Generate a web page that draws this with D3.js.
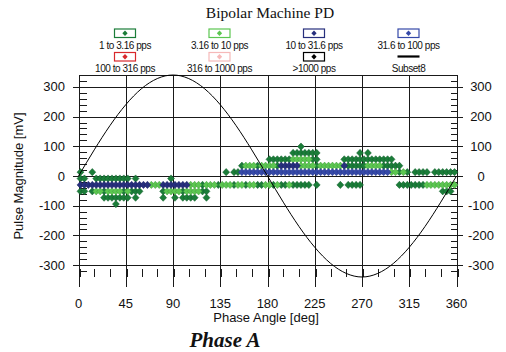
<!DOCTYPE html>
<html><head><meta charset="utf-8">
<script src="https://cdn.jsdelivr.net/npm/d3@7"></script>
<style>html,body{margin:0;padding:0;background:#fff;} svg{display:block;}</style>
</head><body>
<svg id="chart" width="506" height="352"></svg>
<script>
// ---- data ----
const title = "Bipolar Machine PD";
const caption = "Phase A";
const xLabel = "Phase Angle [deg]";
const yLabel = "Pulse Magnitude [mV]";
const xTicks = [0, 45, 90, 135, 180, 225, 270, 315, 360];
const yTicks = [-300, -200, -100, 0, 100, 200, 300];

const seriesNames = ["1 to 3.16 pps", "3.16 to 10 pps", "10 to 31.6 pps", "31.6 to 100 pps",
                     "100 to 316 pps", "316 to 1000 pps", ">1000 pps", "Subset8"];
const seriesColors = ["#1b7d39", "#5cc651", "#272f7d", "#3549a8", "#d8282c", "#f6b9b9", "#000000", "#000000"];
const seriesEdges = ["#0f5a28", "#3f9a3a", "#1a2060", "#25358a", "#a01818", "#d09090", "#000000", "#000000"];
const seriesCodes = ["d", "l", "n", "b", "r", "p", "k"];

// phase bins of 3.75 deg; one character per bin, letter = rate class (see seriesCodes)
const binWidth = 3.75;
const magnitudes = [99, 77.5, 56, 34.5, 13, -8.5, -30, -51.5, -73, -94.5];
const rowBins = [
  "........ ........ ........ ........ ........ ........ ........ d....... ........ ........ ........ ........",
  "........ ........ ........ ........ ........ ........ ......dd ddddd... .......d .d...... ........ ........",
  "........ ........ ........ ........ ........ ........ ddddddll llldd... ...ddddd dddddddd ........ ........",
  "........ ........ ........ ........ ........ .dllldll lldnnnnn lllldlll lllndddd dllllddd dd...... ........",
  "d..d.... ........ ........ ........ .....d.d dbbbbbbb bbbbbbbb bbbbbbbb bbbbbbbb bbbbbbbl ldld.ddd d.dddddd",
  "dd..dddd ddddd.d. .......d ........ ........ ........ ........ ........ ........ ........ ........ ........",
  "nnnnnnnn nnnnnnnn nnlllnnn nnnnllld llldllld lldllddl ldlddldd ddd.d... ..d.dddd ........ .ddddddd llllllll",
  "dd.dlldl llldlddd .....dll lldlllld d....... ........ ........ ........ ........ ........ ........ ....ddd.",
  "......dd ddddd.d. .....d.. d.dddd.. d....... ........ ........ ........ ........ ........ ........ ........",
  "........ .d...... ........ ........ ........ ........ ........ ........ ........ ........ ........ ........"
];

// reference sine (Subset8), mV at every 15 deg
const refPhase = [0, 15, 30, 45, 60, 75, 90, 105, 120, 135, 150, 165, 180,
                  195, 210, 225, 240, 255, 270, 285, 300, 315, 330, 345, 360];
const refValues = [0, 88, 170, 240, 294, 328, 340, 328, 294, 240, 170, 88, 0,
                   -88, -170, -240, -294, -328, -340, -328, -294, -240, -170, -88, 0];

// ---- layout ----
const svg = d3.select("#chart");
const x = d3.scaleLinear().domain([0, 360]).range([78.5, 456.5]);
const y = d3.scaleLinear().domain([-340, 340]).range([277, 75]);
const px = v => Math.round(x(v)) + 0.5;
const py = v => Math.round(y(v)) + 0.5;
const lineColor = "#1a1a1a";

const diamond = {
  draw(ctx, size) {
    const r = Math.sqrt(size / 2);
    ctx.moveTo(0, -r * 1.05); ctx.lineTo(r, 0); ctx.lineTo(0, r * 1.05); ctx.lineTo(-r, 0); ctx.closePath();
  }
};

// title
svg.append("text").attr("x", 270).attr("y", 18).attr("text-anchor", "middle")
  .attr("font-family", "Liberation Serif, Times New Roman, serif").attr("font-size", 15.5)
  .attr("fill", "#111").text(title);

// legend
const legCols = [125, 219.5, 314, 408.5];
const legBoxY = [33, 56.5];
const legTextY = [48.5, 72];
const legend = svg.append("g");
seriesNames.forEach((name, i) => {
  const cx = legCols[i % 4], row = Math.floor(i / 4);
  const g = legend.append("g");
  if (i < 7) {
    g.append("rect").attr("x", cx - 10.5).attr("y", legBoxY[row] - 4).attr("width", 21).attr("height", 8.5)
      .attr("fill", "#fff").attr("stroke", seriesColors[i]).attr("stroke-width", 1.2);
    g.append("path").attr("d", d3.symbol().type(diamond).size(14)())
      .attr("transform", `translate(${cx},${legBoxY[row] + 0.2})`).attr("fill", seriesColors[i]);
  } else {
    g.append("line").attr("x1", cx - 11).attr("x2", cx + 11).attr("y1", legBoxY[row]).attr("y2", legBoxY[row])
      .attr("stroke", "#000").attr("stroke-width", 2.2);
  }
  g.append("text").attr("x", cx).attr("y", legTextY[row]).attr("text-anchor", "middle")
    .attr("font-family", "Liberation Sans, Arial, sans-serif").attr("font-size", 10)
    .attr("letter-spacing", -0.45).attr("fill", "#111").text(name);
});

// grid and frame
const grid = svg.append("g").attr("stroke", lineColor).attr("stroke-width", 1).attr("shape-rendering", "crispEdges");
yTicks.forEach(v => grid.append("line").attr("x1", x(0) - 6).attr("x2", x(360) + 6)
  .attr("y1", py(v)).attr("y2", py(v)));
xTicks.forEach(v => grid.append("line").attr("x1", px(v)).attr("x2", px(v))
  .attr("y1", y(340)).attr("y2", y(-340) + 10));
grid.append("line").attr("x1", px(0)).attr("x2", px(360)).attr("y1", py(340)).attr("y2", py(340));

// minor ticks
const yMinor = d3.range(-320, 340, 20).filter(v => v % 100 !== 0);
yMinor.forEach(v => {
  grid.append("line").attr("x1", px(0)).attr("x2", px(0) + 7).attr("y1", py(v)).attr("y2", py(v));
  grid.append("line").attr("x1", px(360) - 7).attr("x2", px(360)).attr("y1", py(v)).attr("y2", py(v));
});
const xMinor = d3.range(15, 360, 15).filter(v => v % 45 !== 0);
xMinor.forEach(v => grid.append("line").attr("x1", px(v)).attr("x2", px(v))
  .attr("y1", y(-340) - 8).attr("y2", y(-340)).attr("stroke-width", 1.3));
xTicks.forEach(v => grid.append("line").attr("x1", px(v)).attr("x2", px(v))
  .attr("y1", y(-340) - 8).attr("y2", y(-340)).attr("stroke-width", 2));

// tick labels
const tickFont = "Liberation Sans, Arial, sans-serif";
yTicks.forEach(v => {
  svg.append("text").attr("x", 65).attr("y", y(v) + 4.5).attr("text-anchor", "end")
    .attr("font-family", tickFont).attr("font-size", 13).attr("fill", "#111").text(v);
  svg.append("text").attr("x", 481).attr("y", y(v) + 4.5).attr("text-anchor", "middle")
    .attr("font-family", tickFont).attr("font-size", 13).attr("fill", "#111").text(v);
});
xTicks.forEach(v => svg.append("text").attr("x", x(v)).attr("y", 308).attr("text-anchor", "middle")
  .attr("font-family", tickFont).attr("font-size", 13).attr("fill", "#111").text(v));

svg.append("text").attr("x", 266).attr("y", 322).attr("text-anchor", "middle")
  .attr("font-family", tickFont).attr("font-size", 13).attr("fill", "#111").text(xLabel);
svg.append("text").attr("transform", "translate(23,176) rotate(-90)").attr("text-anchor", "middle")
  .attr("font-family", tickFont).attr("font-size", 13).attr("fill", "#111").text(yLabel);
svg.append("text").attr("x", 225).attr("y", 347).attr("text-anchor", "middle")
  .attr("font-family", "Liberation Serif, Times New Roman, serif").attr("font-size", 21)
  .attr("font-weight", "bold").attr("font-style", "italic").attr("fill", "#111").text(caption);

// scatter points
const points = [];
rowBins.forEach((row, r) => {
  row.replace(/ /g, "").split("").forEach((c, i) => {
    const s = seriesCodes.indexOf(c);
    if (s >= 0) points.push({ phase: (i + 0.5) * binWidth, mag: magnitudes[r], s });
  });
});
const dots = svg.append("g");
seriesCodes.forEach((code, s) => {
  dots.selectAll(null).data(points.filter(p => p.s === s)).enter().append("path")
    .attr("d", d3.symbol().type(diamond).size(24)())
    .attr("transform", p => `translate(${x(p.phase)},${y(p.mag)})`)
    .attr("fill", seriesColors[s]).attr("stroke", seriesEdges[s]).attr("stroke-width", 0.5);
});

// reference sine
const refLine = d3.line().x((d, i) => x(refPhase[i])).y(d => y(d)).curve(d3.curveNatural);
svg.append("path").attr("d", refLine(refValues)).attr("fill", "none")
  .attr("stroke", "#000").attr("stroke-width", 1);
</script>
</body></html>
